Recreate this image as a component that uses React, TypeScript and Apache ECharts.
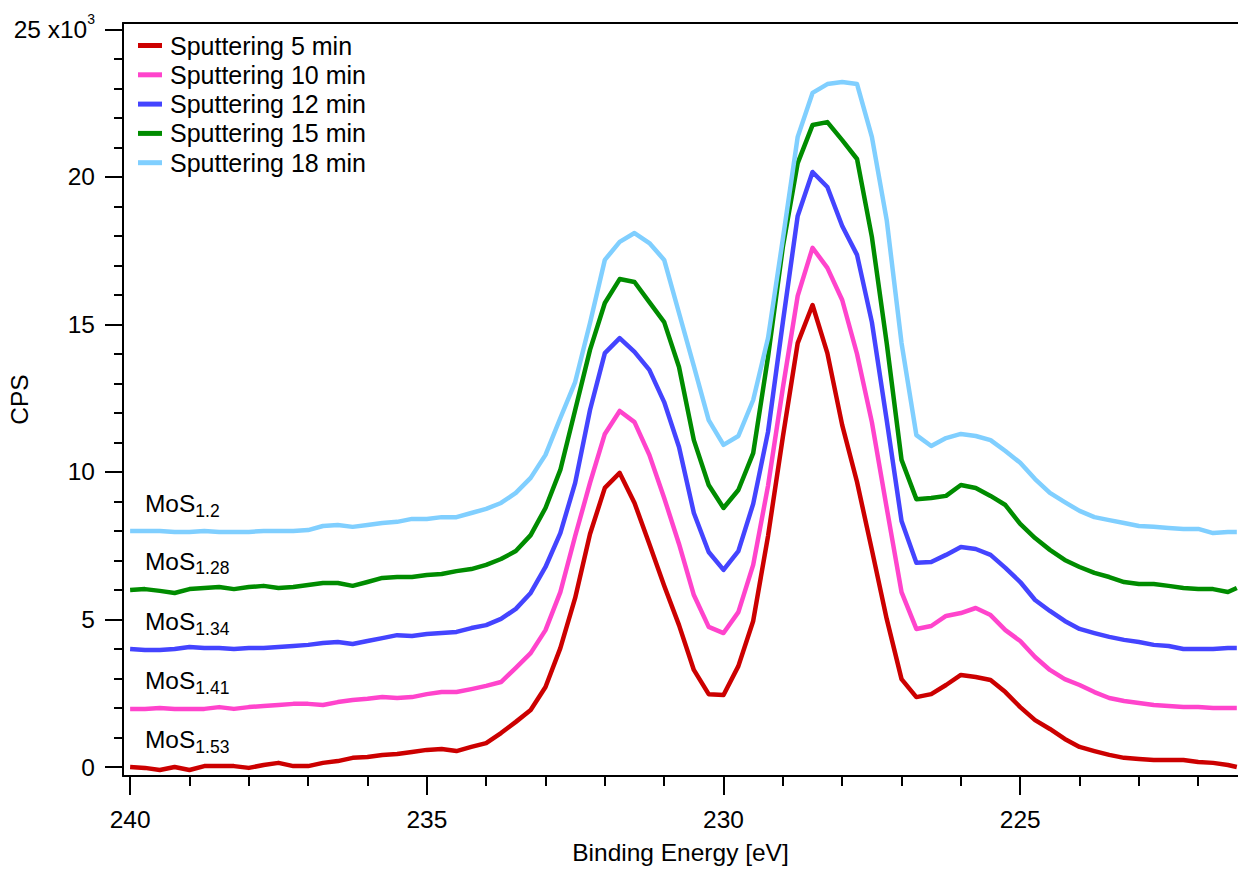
import React, { useEffect, useRef } from 'react';
import * as echarts from 'echarts';

// Binding energy grid (eV)
const energy = [240, 239.75, 239.5, 239.25, 239, 238.75, 238.5, 238.25, 238, 237.75, 237.5, 237.25, 237, 236.75, 236.5, 236.25, 236, 235.75, 235.5, 235.25, 235, 234.75, 234.5, 234.25, 234, 233.75, 233.5, 233.25, 233, 232.75, 232.5, 232.25, 232, 231.75, 231.5, 231.25, 231, 230.75, 230.5, 230.25, 230, 229.75, 229.5, 229.25, 229, 228.75, 228.5, 228.25, 228, 227.75, 227.5, 227.25, 227, 226.75, 226.5, 226.25, 226, 225.75, 225.5, 225.25, 225, 224.75, 224.5, 224.25, 224, 223.75, 223.5, 223.25, 223, 222.75, 222.5, 222.25, 222, 221.75, 221.5, 221.35];

// CPS values in units of 10^3
const sput5 = [0.00, -0.03, -0.10, 0.00, -0.10, 0.03, 0.03, 0.03, -0.03, 0.07, 0.14, 0.03, 0.03, 0.14, 0.20, 0.31, 0.34, 0.41, 0.44, 0.51, 0.58, 0.61, 0.54, 0.68, 0.81, 1.15, 1.53, 1.93, 2.71, 4.03, 5.73, 7.90, 9.46, 9.97, 8.95, 7.56, 6.14, 4.81, 3.29, 2.47, 2.44, 3.42, 4.95, 7.83, 11.19, 14.37, 15.66, 14.03, 11.59, 9.66, 7.36, 5.02, 2.98, 2.37, 2.47, 2.78, 3.12, 3.05, 2.95, 2.54, 2.03, 1.59, 1.29, 0.95, 0.68, 0.54, 0.41, 0.31, 0.27, 0.24, 0.24, 0.24, 0.17, 0.14, 0.07, 0.00];
const sput10 = [1.97, 1.97, 2.00, 1.97, 1.97, 1.97, 2.03, 1.97, 2.03, 2.07, 2.10, 2.14, 2.14, 2.10, 2.20, 2.27, 2.31, 2.37, 2.34, 2.37, 2.47, 2.54, 2.54, 2.64, 2.75, 2.88, 3.36, 3.86, 4.64, 5.93, 7.83, 9.63, 11.29, 12.07, 11.69, 10.58, 9.12, 7.56, 5.83, 4.75, 4.54, 5.25, 6.85, 9.53, 12.85, 15.97, 17.60, 16.92, 15.83, 14.00, 11.69, 8.78, 5.93, 4.68, 4.78, 5.12, 5.22, 5.39, 5.15, 4.64, 4.27, 3.73, 3.29, 2.98, 2.78, 2.54, 2.34, 2.24, 2.17, 2.10, 2.07, 2.03, 2.03, 2.00, 2.00, 2.00];
const sput12 = [4.00, 3.97, 3.97, 4.00, 4.07, 4.03, 4.03, 4.00, 4.03, 4.03, 4.07, 4.10, 4.14, 4.20, 4.24, 4.17, 4.27, 4.37, 4.47, 4.44, 4.51, 4.54, 4.58, 4.71, 4.81, 5.02, 5.36, 5.90, 6.78, 7.93, 9.63, 12.10, 14.03, 14.54, 14.07, 13.46, 12.37, 10.85, 8.61, 7.29, 6.68, 7.32, 8.92, 11.36, 15.08, 18.68, 20.17, 19.66, 18.34, 17.36, 15.08, 11.76, 8.34, 6.92, 6.95, 7.19, 7.46, 7.39, 7.19, 6.75, 6.27, 5.66, 5.29, 4.95, 4.68, 4.54, 4.41, 4.31, 4.24, 4.14, 4.10, 4.00, 4.00, 4.00, 4.03, 4.03];
const sput15 = [6.00, 6.03, 5.97, 5.90, 6.03, 6.07, 6.10, 6.03, 6.10, 6.14, 6.07, 6.10, 6.17, 6.24, 6.24, 6.14, 6.27, 6.41, 6.44, 6.44, 6.51, 6.54, 6.64, 6.71, 6.85, 7.05, 7.32, 7.86, 8.78, 10.07, 12.10, 14.14, 15.73, 16.54, 16.44, 15.76, 15.08, 13.56, 11.08, 9.56, 8.78, 9.39, 10.64, 13.90, 17.63, 20.47, 21.76, 21.86, 21.25, 20.61, 17.97, 14.37, 10.41, 9.08, 9.12, 9.19, 9.56, 9.46, 9.19, 8.88, 8.24, 7.76, 7.36, 7.02, 6.78, 6.58, 6.44, 6.27, 6.20, 6.20, 6.14, 6.07, 6.03, 6.03, 5.93, 6.07];
const sput18 = [8.00, 8.00, 8.00, 7.97, 7.97, 8.00, 7.97, 7.97, 7.97, 8.00, 8.00, 8.00, 8.03, 8.17, 8.20, 8.14, 8.20, 8.27, 8.31, 8.41, 8.41, 8.47, 8.47, 8.61, 8.75, 8.95, 9.29, 9.80, 10.58, 11.83, 13.05, 15.05, 17.19, 17.80, 18.10, 17.76, 17.19, 15.39, 13.59, 11.76, 10.92, 11.22, 12.44, 14.54, 17.90, 21.36, 22.85, 23.15, 23.22, 23.15, 21.36, 18.54, 14.37, 11.25, 10.88, 11.15, 11.29, 11.22, 11.08, 10.71, 10.31, 9.76, 9.29, 8.98, 8.68, 8.47, 8.37, 8.27, 8.17, 8.14, 8.10, 8.07, 8.07, 7.93, 7.97, 7.97];

const seriesValues = [sput5, sput10, sput12, sput15, sput18];
const seriesNames = ['Sputtering 5 min', 'Sputtering 10 min', 'Sputtering 12 min', 'Sputtering 15 min', 'Sputtering 18 min'];
const colors = ['#CC0000', '#FF44CC', '#4444FF', '#008C00', '#80CFFF'];
const stoich = ['1.53', '1.41', '1.34', '1.28', '1.2'];
const labelE = 239.75;
const labelV = [0.93, 2.92, 4.93, 6.98, 8.92];

const xMajor = [240, 235, 230, 225];
const xMinor = [239, 238, 237, 236, 234, 233, 232, 231, 229, 228, 227, 226, 224, 223, 222];
const yMajor = [0, 5, 10, 15, 20, 25];
const yMinor = [1, 2, 3, 4, 6, 7, 8, 9, 11, 12, 13, 14, 16, 17, 18, 19, 21, 22, 23, 24];

const X_MIN = 221.33;
const X_MAX = 240.12;
const Y_MIN = -0.305;
const Y_MAX = 25.22;

const FONT = '"Liberation Sans", Arial, sans-serif';

export default function App() {
  const ref = useRef<HTMLDivElement>(null);

  useEffect(() => {
    if (!ref.current) return;
    const chart = echarts.init(ref.current, null, { renderer: 'svg' });

    const axisLineStyle = { color: '#000', width: 2 };
    const gridBox = { left: 123, right: 0, top: 23, bottom: 93, containLabel: false, outerBoundsMode: 'none' };
    const xBase = { type: 'value', inverse: true, min: X_MIN, max: X_MAX, splitLine: { show: false } };
    const yBase = { type: 'value', min: Y_MIN, max: Y_MAX, splitLine: { show: false } };

    const option: any = {
      animation: false,
      backgroundColor: '#fff',
      textStyle: { fontFamily: FONT, color: '#000' },
      grid: [{ ...gridBox }, { ...gridBox }, { ...gridBox }],
      legend: {
        orient: 'vertical',
        left: 133,
        top: 28,
        icon: 'rect',
        itemWidth: 24,
        itemHeight: 5,
        itemGap: 4.3,
        data: seriesNames,
        textStyle: { fontFamily: FONT, fontSize: 25, color: '#000', lineHeight: 25, padding: [0, 0, 0, 3] },
      },
      xAxis: [
        {
          ...xBase,
          gridIndex: 0,
          position: 'bottom',
          axisLine: { show: true, onZero: false, lineStyle: axisLineStyle },
          axisTick: { show: true, customValues: xMajor, length: 19, lineStyle: { color: '#000', width: 2 } },
          axisLabel: { show: true, customValues: xMajor, margin: 31, fontSize: 24.5, color: '#000', fontFamily: FONT },
          name: 'Binding Energy [eV]',
          nameLocation: 'middle',
          nameGap: 64,
          nameMoveOverlap: false,
          nameTextStyle: { fontSize: 24.5, color: '#000', fontFamily: FONT },
        },
        {
          ...xBase,
          gridIndex: 1,
          position: 'bottom',
          axisLine: { show: false, onZero: false },
          axisTick: { show: true, customValues: xMinor, length: 10, lineStyle: { color: '#000', width: 2 } },
          axisLabel: { show: false },
        },
        {
          ...xBase,
          gridIndex: 2,
          position: 'top',
          axisLine: { show: true, onZero: false, lineStyle: axisLineStyle },
          axisTick: { show: false },
          axisLabel: { show: false },
        },
      ],
      yAxis: [
        {
          ...yBase,
          gridIndex: 0,
          position: 'left',
          axisLine: { show: true, onZero: false, lineStyle: axisLineStyle },
          axisTick: { show: true, customValues: yMajor, length: 18, lineStyle: { color: '#000', width: 2 } },
          axisLabel: {
            show: true,
            customValues: yMajor,
            margin: 28,
            fontSize: 24.5,
            lineHeight: 34,
            color: '#000',
            fontFamily: FONT,
            formatter: (v: number) => (v === 25 ? '25 x10{sup|3}' : String(v)),
            rich: {
              sup: { fontSize: 14, lineHeight: 14, verticalAlign: 'top', color: '#000', fontFamily: FONT },
            },
          },
          name: 'CPS',
          nameLocation: 'middle',
          nameRotate: 90,
          nameGap: 91,
          nameMoveOverlap: false,
          nameTextStyle: { fontSize: 24.5, color: '#000', fontFamily: FONT },
        },
        {
          ...yBase,
          gridIndex: 1,
          position: 'left',
          axisLine: { show: false, onZero: false },
          axisTick: { show: true, customValues: yMinor, length: 9, lineStyle: { color: '#000', width: 2 } },
          axisLabel: { show: false },
        },
        {
          ...yBase,
          gridIndex: 2,
          position: 'right',
          show: false,
        },
      ],
      series: seriesValues.map((vals, i) => ({
        name: seriesNames[i],
        type: 'line',
        xAxisIndex: 0,
        yAxisIndex: 0,
        data: energy.map((e, j) => [e, vals[j]]),
        showSymbol: false,
        symbol: 'none',
        smooth: false,
        color: colors[i],
        lineStyle: { color: colors[i], width: 4.5, join: 'round' },
        emphasis: { disabled: true },
        markPoint: {
          symbol: 'circle',
          symbolSize: 0,
          silent: true,
          itemStyle: { color: 'transparent' },
          label: {
            show: true,
            position: 'right',
            distance: 0,
            color: '#000',
            fontSize: 24.5,
            lineHeight: 32,
            fontFamily: FONT,
            formatter: () => 'MoS{sub|' + stoich[i] + '}',
            rich: {
              sub: { fontSize: 17.5, lineHeight: 17, verticalAlign: 'bottom', color: '#000', fontFamily: FONT },
            },
          },
          data: [{ coord: [labelE, labelV[i]] }],
        },
      })),
    };

    chart.setOption(option);
    return () => chart.dispose();
  }, []);

  return (
    <div
      ref={ref}
      style={{ position: 'fixed', left: 0, top: 0, width: 1238, height: 869, background: '#fff' }}
    />
  );
}
